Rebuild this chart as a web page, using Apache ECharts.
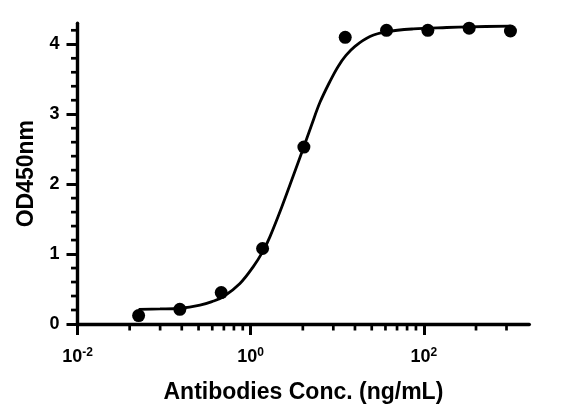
<!DOCTYPE html>
<html>
<head>
<meta charset="utf-8">
<script src="https://cdn.jsdelivr.net/npm/echarts@6/dist/echarts.min.js"></script>
<style>
html,body{margin:0;padding:0;background:#fff;}
#c{width:573px;height:418px;}
</style>
</head>
<body>
<div id="c"></div>
<script>
// Measured points (ng/mL, OD450)
const concentrations = [0.0508, 0.152, 0.457, 1.372, 4.115, 12.35, 37.04, 111.1, 333.3, 1000];
const od450 = [0.12, 0.21, 0.45, 1.08, 2.53, 4.10, 4.20, 4.20, 4.23, 4.19];

// Fitted curve
const curveX = [0.0508, 0.0897, 0.1538, 0.2597, 0.3573, 0.4827, 0.752, 1.072, 1.398, 1.671, 2.280, 3.104, 3.880, 5.063, 6.313, 8.236, 10.19, 12.60, 16.01, 23.86, 37.19, 75.44, 183.4, 340.6, 1000];
const curveY = [0.21, 0.215, 0.225, 0.27, 0.32, 0.39, 0.58, 0.82, 1.05, 1.25, 1.67, 2.12, 2.45, 2.85, 3.17, 3.47, 3.68, 3.84, 3.97, 4.11, 4.18, 4.22, 4.24, 4.25, 4.26];

// Axis ticks
const xMajorTicks = [0.01, 1, 100];
const xMinorTicks = [0.04, 0.09, 0.16, 0.25, 0.36, 0.49, 0.64, 0.81, 4, 9, 16, 25, 36, 49, 64, 81, 400, 900];
const yMajorTicks = [0, 1, 2, 3, 4];
const yMinorTicks = [0.2, 0.4, 0.6, 0.8, 1.2, 1.4, 1.6, 1.8, 2.2, 2.4, 2.6, 2.8, 3.2, 3.4, 3.6, 3.8, 4.2];

const xTitle = 'Antibodies Conc. (ng/mL)';
const yTitle = 'OD450nm';

const FONT = '"Liberation Sans", Arial, sans-serif';
const X_MIN = 0.01, X_MAX = 1650, Y_MIN = 0, Y_MAX = 4.3;
const MINOR_LEN = 6.5;

const chart = echarts.init(document.getElementById('c'), null, {renderer: 'canvas'});

function minorTickX(params, api) {
  const p = api.coord([api.value(0), Y_MIN]);
  return {type: 'line', shape: {x1: p[0], y1: p[1], x2: p[0], y2: p[1] + MINOR_LEN},
          style: {stroke: '#000', lineWidth: 2.7}};
}
function minorTickY(params, api) {
  const p = api.coord([X_MIN, api.value(1)]);
  return {type: 'line', shape: {x1: p[0], y1: p[1], x2: p[0] - MINOR_LEN, y2: p[1]},
          style: {stroke: '#000', lineWidth: 2.7}};
}

chart.setOption({
  animation: false,
  backgroundColor: '#fff',
  grid: {left: 77.5, right: 43.7, top: 23.3, bottom: 94},
  xAxis: {
    type: 'log', logBase: 10, min: X_MIN, max: X_MAX,
    name: xTitle,
    nameLocation: 'middle',
    nameGap: 57,
    nameTextStyle: {fontFamily: FONT, fontWeight: 'bold', fontSize: 23, color: '#000'},
    axisLine: {show: true, lineStyle: {color: '#000', width: 3.4}},
    axisTick: {show: true, customValues: xMajorTicks, length: 11, lineStyle: {color: '#000', width: 3}},
    axisLabel: {
      customValues: xMajorTicks,
      margin: 23,
      fontFamily: FONT, fontWeight: 'bold', fontSize: 18, color: '#000',
      formatter: function (v) { return '10{sup|' + Math.round(Math.log10(v)) + '}'; },
      rich: {sup: {fontFamily: FONT, fontWeight: 'bold', fontSize: 12, color: '#000', verticalAlign: 'top', padding: [0, 0, 9, 0]}}
    },
    splitLine: {show: false}
  },
  yAxis: {
    type: 'value', min: Y_MIN, max: Y_MAX,
    name: yTitle,
    nameLocation: 'middle',
    nameGap: 38,
    nameTextStyle: {fontFamily: FONT, fontWeight: 'bold', fontSize: 23, color: '#000'},
    axisLine: {show: true, lineStyle: {color: '#000', width: 3.4}},
    axisTick: {show: true, customValues: yMajorTicks, length: 11, lineStyle: {color: '#000', width: 3}},
    axisLabel: {customValues: yMajorTicks, margin: 18, fontFamily: FONT, fontWeight: 'bold', fontSize: 18, color: '#000'},
    splitLine: {show: false}
  },
  series: [
    {
      type: 'custom',
      renderItem: minorTickX,
      clip: false,
      silent: true,
      data: xMinorTicks.map(v => [v, Y_MIN]),
      z: 1
    },
    {
      type: 'custom',
      renderItem: minorTickY,
      clip: false,
      silent: true,
      data: yMinorTicks.map(v => [X_MIN, v]),
      z: 1
    },
    {
      type: 'line',
      data: curveX.map((x, i) => [x, curveY[i]]),
      smooth: 0.35,
      showSymbol: false,
      symbol: 'none',
      lineStyle: {color: '#000', width: 2.8},
      z: 2
    },
    {
      type: 'scatter',
      data: concentrations.map((x, i) => [x, od450[i]]),
      symbol: 'circle',
      symbolSize: 13,
      itemStyle: {color: '#000', opacity: 1},
      z: 3
    }
  ]
});
</script>
</body>
</html>
